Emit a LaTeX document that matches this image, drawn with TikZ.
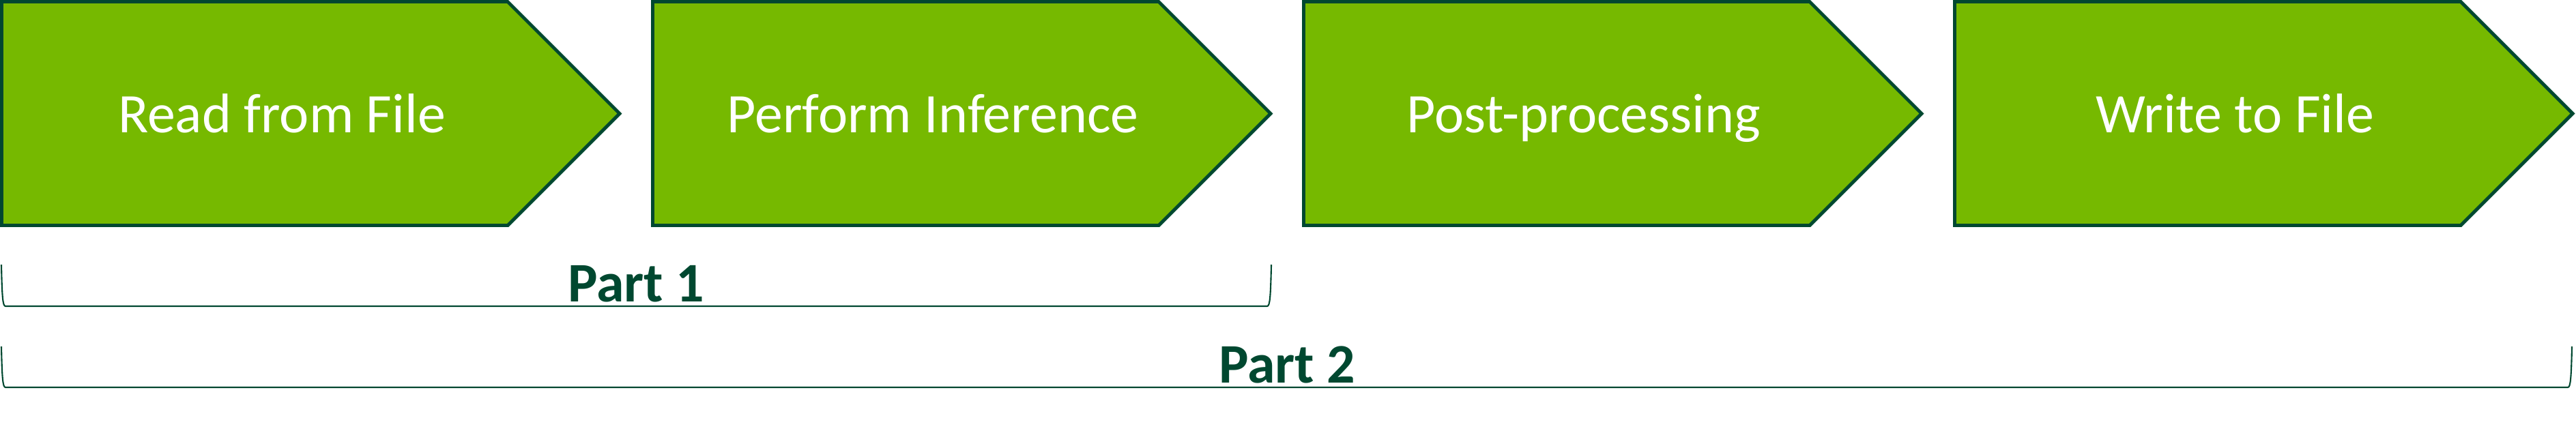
\documentclass[tikz,border=0pt]{standalone}
\usepackage{fontspec}
\setmainfont{Carlito}
\usetikzlibrary{positioning}
\definecolor{stepgreen}{HTML}{76B900}
\definecolor{darkgreen}{HTML}{004830}

\begin{document}
\begin{tikzpicture}[
  stage/.style={fill=stepgreen, draw=darkgreen, line width=1.4pt, line join=miter},
  stagetext/.style={text=white, font=\fontsize{23.3pt}{28pt}\selectfont, anchor=base},
  bracket/.style={draw=darkgreen, line width=0.6pt},
  parttext/.style={text=darkgreen, font=\fontsize{23.3pt}{28pt}\selectfont\bfseries, anchor=base}]
\useasboundingbox (0,0) rectangle (37.75,-6.31);
% the four stages
\foreach \i/\txt in {0/Read from File, 1/Perform Inference, 2/Post-processing, 3/Write to File} {
  \draw[stage] (\i*9.54+0.025,-0.025) -- ++(7.415,0) -- ++(1.64,-1.64)
    -- ++(-1.64,-1.64) -- ++(-7.415,0) -- cycle;
  \node[stagetext] (s\i) at (\i*9.54+4.13,-1.94) {\txt};
}
% brackets
\coordinate (b1a) at (0.02,-3.88);
\coordinate (b1b) at (18.63,-3.88);
\coordinate (b2a) at (0.02,-5.08);
\coordinate (b2b) at (37.69,-5.08);
\draw[bracket] (b1a) .. controls (0.03,-4.35) and (0.04,-4.49) .. (0.08,-4.49)
  -- (18.57,-4.49) .. controls (18.61,-4.49) and (18.62,-4.35) .. (b1b);
\draw[bracket] (b2a) .. controls (0.03,-5.54) and (0.04,-5.68) .. (0.08,-5.68)
  -- (37.63,-5.68) .. controls (37.67,-5.68) and (37.68,-5.54) .. (b2b);
\node[parttext] (part1) at (9.32,-4.42) {Part 1};
\node[parttext] (part2) at (18.86,-5.61) {Part 2};
\end{tikzpicture}
\end{document}
